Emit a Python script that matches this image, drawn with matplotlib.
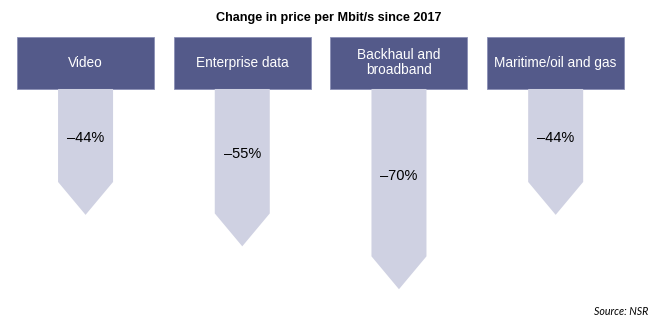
import matplotlib.pyplot as plt
from matplotlib.patches import Rectangle, Polygon

segments = ['Video', 'Enterprise data', 'Backhaul and\nbroadband', 'Maritime/oil and gas']
changes = [-44, -55, -70, -44]
labels = ['\u201344%', '\u201355%', '\u201370%', '\u201344%']

box_color = '#545a8a'
arrow_color = '#cfd1e2'

fig = plt.figure(figsize=(6.58, 3.27), dpi=100)
ax = fig.add_axes([0, 0, 1, 1])
ax.set_xlim(-0.546, 3.653)
ax.set_ylim(-83.2, 31.1)
ax.axis('off')

box_w = 0.874
box_h = 18.2
arrow_w = 0.351
head_h = 11.5

for i, (name, v, lab) in enumerate(zip(segments, changes, labels)):
    ax.add_patch(Rectangle((i - box_w / 2, 0), box_w, box_h, facecolor=box_color,
                           edgecolor='#8a8fb5', linewidth=0.6))
    ax.text(i, box_h / 2, name, ha='center', va='center', color='white',
            fontsize=9.8, family='Liberation Sans', linespacing=1.1)
    shaft_end = v + head_h
    pts = [(i - arrow_w / 2, 0), (i + arrow_w / 2, 0), (i + arrow_w / 2, shaft_end),
           (i, v), (i - arrow_w / 2, shaft_end)]
    ax.add_patch(Polygon(pts, closed=True, facecolor=arrow_color, edgecolor='none'))
    ax.text(i, shaft_end / 2 - 1.0, lab, ha='center', va='center', color='black',
            fontsize=10.5, family='Liberation Sans')

fig.text(0.5, 0.945, 'Change in price per Mbit/s since 2017', ha='center', va='center',
         fontsize=9.1, fontweight='bold', family='Liberation Sans')
fig.text(0.985, 0.048, 'Source: NSR', ha='right', va='center', fontsize=7.7,
         style='italic', family='Lato')

fig.savefig('out.png', dpi=100)
